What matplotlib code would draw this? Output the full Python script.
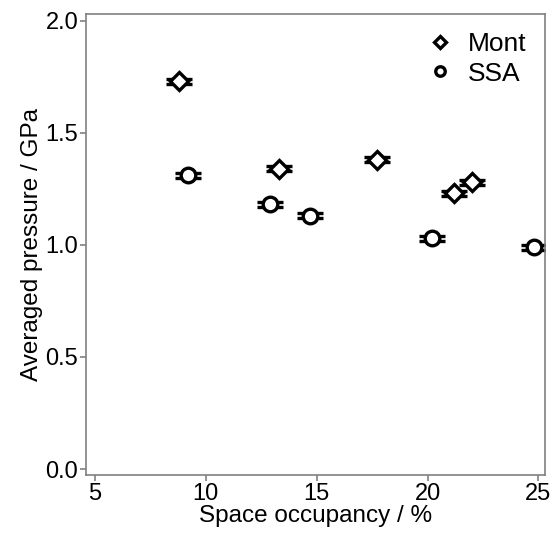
import matplotlib
matplotlib.use("Agg")
import matplotlib.pyplot as plt

plt.rcParams['font.family'] = ['Liberation Sans', 'DejaVu Sans']

mont_x = [8.8, 13.3, 17.7, 21.2, 22.0]
mont_y = [1.73, 1.34, 1.38, 1.23, 1.28]
ssa_x = [9.2, 12.9, 14.7, 20.2, 24.8]
ssa_y = [1.31, 1.18, 1.13, 1.03, 0.99]
err = 0.011

fig = plt.figure(figsize=(5.54, 5.35), dpi=100)
ax = fig.add_axes([0.155, 0.112, 0.829, 0.862])

ax.errorbar(mont_x, mont_y, yerr=err, fmt='D', ms=9, mfc='white', mec='black', mew=2.4,
            ecolor='black', elinewidth=1.5, capsize=9.5, capthick=1.8, label='Mont')
ax.errorbar(ssa_x, ssa_y, yerr=err, fmt='o', ms=10.5, mfc='white', mec='black', mew=2.4,
            ecolor='black', elinewidth=1.5, capsize=9.5, capthick=1.8, label='SSA')

ax.set_xlim(4.6, 25.3)
ax.set_ylim(-0.027, 2.03)
ax.set_xticks([5, 10, 15, 20, 25])
ax.set_yticks([0.0, 0.5, 1.0, 1.5, 2.0])
ax.set_yticklabels(['0.0', '0.5', '1.0', '1.5', '2.0'])
ax.set_xlabel('Space occupancy / %', fontsize=17.5, labelpad=0)
ax.set_ylabel('Averaged pressure / GPa', fontsize=17.5, labelpad=2)
ax.tick_params(labelsize=17, length=4, width=1.2, color='#808080', pad=1.5)
for s in ax.spines.values():
    s.set_color('#808080')
    s.set_linewidth(1.2)

handles, labels = ax.get_legend_handles_labels()
handles = [h[0] for h in handles]
ax.legend(handles, labels, loc='upper right', frameon=False, fontsize=19,
          markerscale=0.65, handletextpad=0.45, borderaxespad=0.3, labelspacing=0.2,
          handlelength=1.2)

fig.savefig('out.png', dpi=100)
